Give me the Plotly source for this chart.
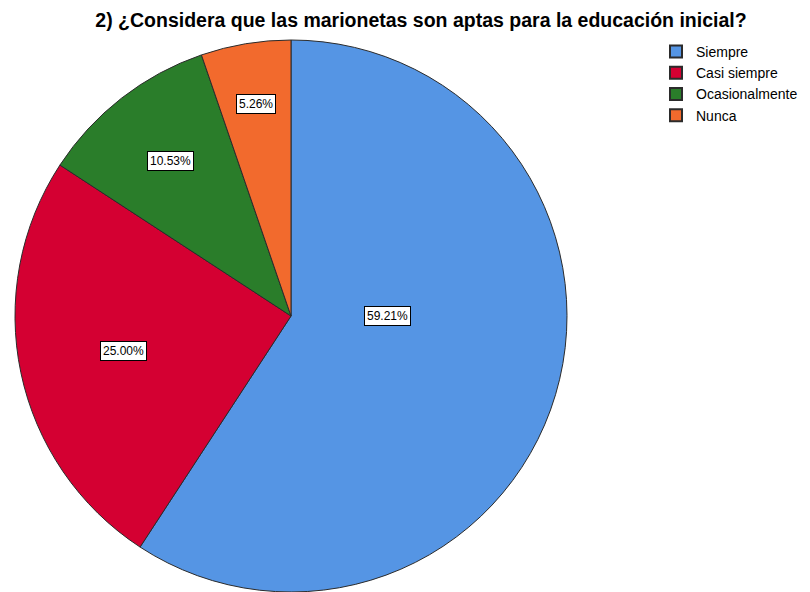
import math
import plotly.graph_objects as go

categories = ["Siempre", "Casi siempre", "Ocasionalmente", "Nunca"]
percentages = [59.21, 25.00, 10.53, 5.26]
colors = ["#5595E4", "#D40032", "#2A7D2A", "#F26A2D"]
label_radius_frac = [0.35, 0.62, 0.71, 0.78]

# page body adds an 8px offset, so the figure is sized to the remaining window
W, H = 802, 584
T = 32
cx_px, cy_px, R_px = 283, 308, 276
plot_h = H - T

fig = go.Figure()
fig.add_trace(go.Pie(
    labels=categories,
    values=percentages,
    sort=False,
    direction="clockwise",
    rotation=0,
    marker=dict(colors=colors, line=dict(color="#2b2b2b", width=1)),
    textinfo="none",
    hoverinfo="label+percent",
    domain=dict(x=[(cx_px - R_px) / W, (cx_px + R_px) / W], y=[0, 1]),
))

# label boxes placed from the data (mid-angle of each slice)
total = sum(percentages)
cum = 0.0
annotations = []
for cat, v, rf in zip(categories, percentages, label_radius_frac):
    mid = (cum + v / 2) / total * 2 * math.pi
    cum += v
    if cat == "Siempre":
        mid = math.pi / 2
    x_px = cx_px + rf * R_px * math.sin(mid)
    y_px = cy_px - rf * R_px * math.cos(mid)
    annotations.append(dict(
        x=x_px / W, y=1 - (y_px - T) / plot_h, xref="paper", yref="paper",
        xanchor="center", yanchor="middle",
        text=f"{v:.2f}%", showarrow=False,
        font=dict(family="Liberation Sans, Arial", size=12, color="#000"),
        bgcolor="white", bordercolor="#000", borderwidth=1, borderpad=2,
    ))

fig.update_layout(
    width=W, height=H,
    margin=dict(l=0, r=0, t=T, b=0),
    paper_bgcolor="white", plot_bgcolor="white",
    title=dict(
        text="<b>2) ¿Considera que las marionetas son aptas para la educación inicial?</b>",
        x=413 / W, xanchor="center", y=1 - 12 / H, yanchor="middle",
        font=dict(family="Liberation Sans, Arial", size=19.5, color="#000"),
    ),
    legend=dict(
        x=648 / W, xanchor="left", y=1 + 4 / plot_h, yanchor="top",
        font=dict(family="Liberation Sans, Arial", size=14, color="#000"),
        itemsizing="constant", tracegroupgap=0,
        bgcolor="rgba(0,0,0,0)",
    ),
    annotations=annotations,
)

fig.write_html("out.html")
